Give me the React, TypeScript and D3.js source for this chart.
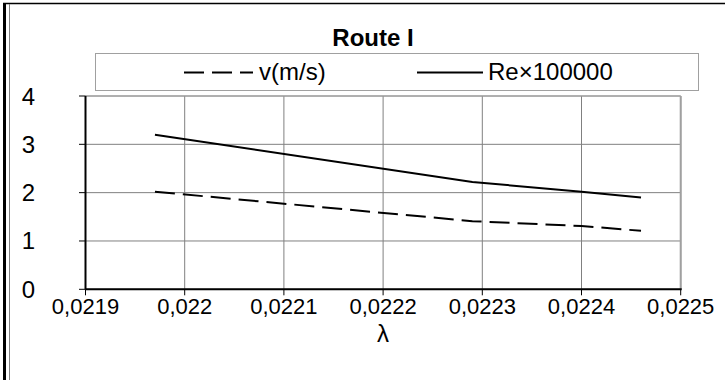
import React from "react";
import * as d3 from "d3";

const lambdaValues = [0.02197, 0.02229, 0.0224, 0.02246];
const velocity = [2.02, 1.41, 1.31, 1.21];
const reynolds = [3.2, 2.22, 2.02, 1.9];
const xTicks = [0.0219, 0.022, 0.0221, 0.0222, 0.0223, 0.0224, 0.0225];
const yTicks = [0, 1, 2, 3, 4];
const seriesNames = ["v(m/s)", "Re×100000"];
const title = "Route I";
const xTitle = "λ";

const W = 725;
const H = 380;
const FONT = "'Liberation Sans', Arial, sans-serif";

export default function App() {
  const x = d3.scaleLinear().domain([0.0219, 0.0225]).range([85.5, 680.7]);
  const y = d3.scaleLinear().domain([0, 4]).range([289.3, 96]);
  const line = d3
    .line<number>()
    .x((_, i) => x(lambdaValues[i]))
    .y((d) => y(d));
  const fmt = (v: number) => String(+v.toFixed(4)).replace(".", ",");
  const [x0, x1] = x.range();
  const [y0, y1] = y.range();

  return (
    <svg
      width={W}
      height={H}
      style={{ position: "absolute", left: 0, top: 0, background: "#fff" }}
      fontFamily={FONT}
    >
      <rect x={0} y={0} width={W} height={H} fill="#fff" />
      {/* chart frame */}
      <line x1={3} x2={W} y1={3.5} y2={3.5} stroke="#000" strokeWidth={1.5} />
      <line x1={4.5} x2={4.5} y1={3} y2={H} stroke="#000" strokeWidth={3} />
      <line x1={9.5} x2={9.5} y1={4} y2={H} stroke="#808080" strokeWidth={1} />

      {/* title */}
      <text x={373} y={46} textAnchor="middle" fontSize={24} fontWeight="bold">
        {title}
      </text>

      {/* legend */}
      <rect x={95.5} y={53.5} width={603} height={37} fill="#fff" stroke="#a0a0a0" strokeWidth={1} />
      <line x1={184} x2={253} y1={72.5} y2={72.5} stroke="#000" strokeWidth={2} strokeDasharray="20,8" />
      <text x={259} y={80} fontSize={24}>{seriesNames[0]}</text>
      <line x1={417} x2={483} y1={72.5} y2={72.5} stroke="#000" strokeWidth={2} />
      <text x={488} y={80} fontSize={24}>{seriesNames[1]}</text>

      {/* grid */}
      {xTicks.map((t) => (
        <line key={"gx" + t} x1={x(t)} x2={x(t)} y1={y1} y2={y0} stroke="#808080" strokeWidth={1} />
      ))}
      {yTicks.map((t) => (
        <line key={"gy" + t} x1={x0} x2={x1} y1={y(t)} y2={y(t)} stroke="#808080" strokeWidth={1} />
      ))}
      {/* plot border */}
      <line x1={x1} x2={x1} y1={y1} y2={y0} stroke="#a0a0a0" strokeWidth={2} />
      <line x1={x0} x2={x1} y1={y1} y2={y1} stroke="#a0a0a0" strokeWidth={1} />

      {/* axes */}
      <line x1={x0} x2={x0} y1={y1} y2={y0} stroke="#000" strokeWidth={2} />
      <line x1={x0} x2={x1 + 1} y1={y0} y2={y0} stroke="#000" strokeWidth={2} />
      {yTicks.map((t) => (
        <g key={"yt" + t}>
          <line x1={79} x2={x0} y1={y(t)} y2={y(t)} stroke="#000" strokeWidth={1} />
          <text x={35} y={y(t) + 8.5} textAnchor="end" fontSize={24}>
            {t}
          </text>
        </g>
      ))}
      {xTicks.map((t) => (
        <g key={"xt" + t}>
          <line x1={x(t)} x2={x(t)} y1={y0} y2={y0 + 6} stroke="#000" strokeWidth={1} />
          <text x={x(t)} y={314} textAnchor="middle" fontSize={22}>
            {fmt(t)}
          </text>
        </g>
      ))}
      <text x={383} y={342} textAnchor="middle" fontSize={24}>
        {xTitle}
      </text>

      {/* series */}
      <path d={line(velocity) || ""} fill="none" stroke="#000" strokeWidth={2} strokeDasharray="20,8" />
      <path d={line(reynolds) || ""} fill="none" stroke="#000" strokeWidth={2} />
    </svg>
  );
}
